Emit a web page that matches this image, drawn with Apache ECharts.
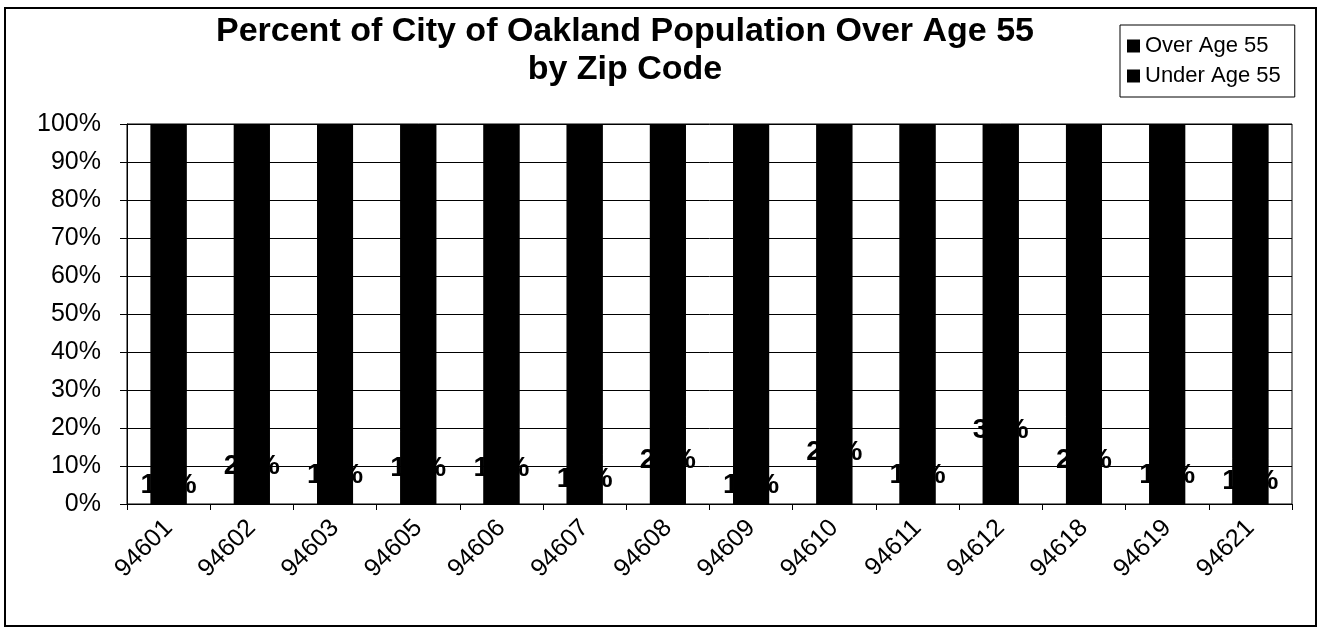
<!DOCTYPE html>
<html>
<head>
<meta charset="utf-8">
<script src="https://cdn.jsdelivr.net/npm/echarts@6/dist/echarts.min.js"></script>
<style>
html,body{margin:0;padding:0;background:#fff;}
#chart{width:1321px;height:632px;}
</style>
</head>
<body>
<div id="chart"></div>
<script>
const zipCodes = ['94601','94602','94603','94605','94606','94607','94608','94609','94610','94611','94612','94618','94619','94621'];
const overAge55 = [10, 20, 15, 19, 19, 13, 23, 10, 27, 15, 39, 23, 15, 12];
const underAge55 = overAge55.map(v => 100 - v);
const yTicks = [0,10,20,30,40,50,60,70,80,90,100];

const FONT = 'Liberation Sans, Arial, sans-serif';
const chart = echarts.init(document.getElementById('chart'));
chart.setOption({
  animation: false,
  backgroundColor: '#fff',
  title: {
    text: 'Percent of City of Oakland Population Over Age 55\nby Zip Code',
    left: 620, top: 8, textAlign: 'center',
    textStyle: {fontFamily: FONT, fontWeight: 'bold', fontSize: 34, color: '#000', lineHeight: 38}
  },
  legend: {
    orient: 'vertical', left: 1120, top: 25,
    data: ['Over Age 55', 'Under Age 55'],
    icon: 'rect', itemWidth: 13, itemHeight: 13, itemGap: 8,
    padding: [10, 14, 10, 7],
    borderColor: '#000', borderWidth: 1,
    textStyle: {fontFamily: FONT, fontSize: 22, color: '#000'}
  },
  grid: {left: 127, right: 29, top: 124, bottom: 128, show: true, borderColor: '#000', borderWidth: 1},
  xAxis: {
    type: 'category', data: zipCodes,
    axisLine: {lineStyle: {color: '#000', width: 1}},
    axisTick: {show: true, length: 6, lineStyle: {color: '#000'}},
    axisLabel: {rotate: 45, fontFamily: FONT, fontSize: 25, color: '#000', margin: 20}
  },
  yAxis: {
    type: 'value', min: 0, max: 100, interval: 10,
    axisLine: {show: true, lineStyle: {color: '#000'}},
    axisTick: {show: true, length: 7, lineStyle: {color: '#000'}},
    splitLine: {lineStyle: {color: '#000', width: 1}},
    axisLabel: {formatter: v => yTicks.includes(v) ? v + '%' : '', fontFamily: FONT, fontSize: 25, color: '#000', margin: 26}
  },
  series: [
    {
      name: 'Over Age 55', type: 'bar', stack: 'total', data: overAge55,
      barWidth: 36,
      showBackground: true,
      backgroundStyle: {color: '#000'},
      itemStyle: {color: '#000'},
      label: {show: true, position: 'inside', formatter: '{c}%', fontFamily: FONT, fontWeight: 'bold', fontSize: 28, color: '#000'}
    },
    {
      name: 'Under Age 55', type: 'bar', stack: 'total', data: underAge55,
      barWidth: 36,
      itemStyle: {color: '#000'}
    }
  ],
  graphic: [{
    type: 'rect', shape: {x: 5, y: 8, width: 1311, height: 618},
    style: {fill: 'none', stroke: '#000', lineWidth: 2}, silent: true, z: -1
  }]
});
</script>
</body>
</html>
